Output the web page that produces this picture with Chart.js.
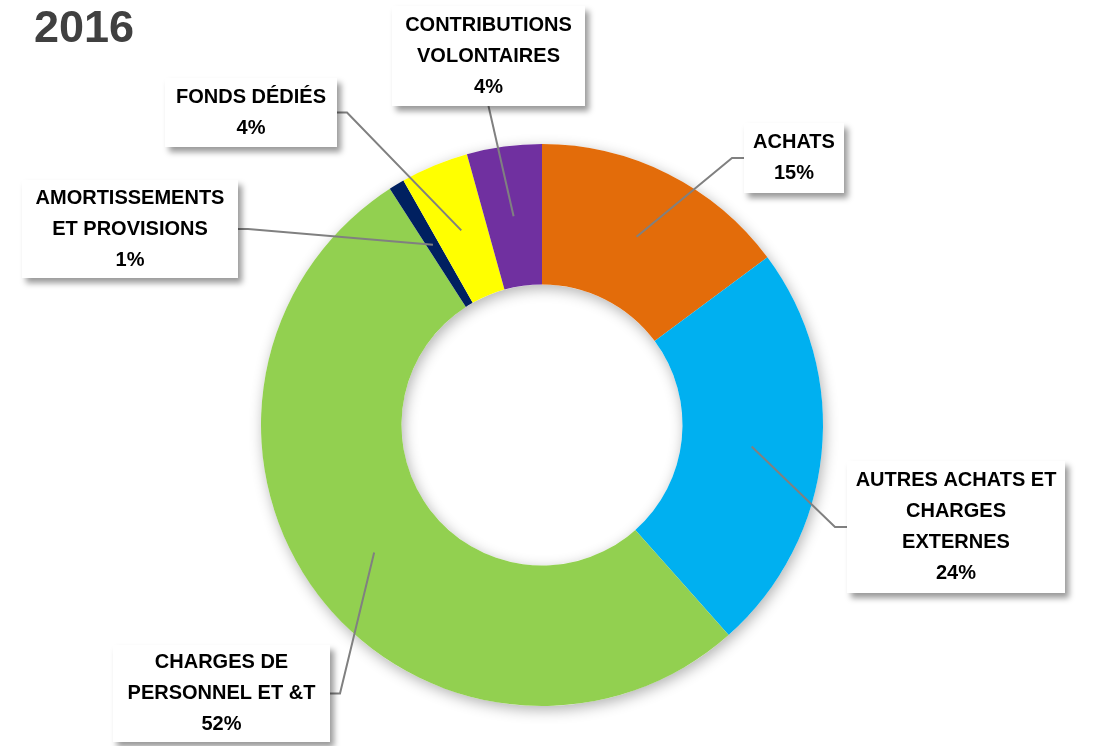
<!DOCTYPE html>
<html>
<head>
<meta charset="utf-8">
<script src="https://cdn.jsdelivr.net/npm/chart.js@4"></script>
<style>
    html, body { margin: 0; padding: 0; background: #ffffff; }
    canvas { display: block; }
</style>
</head>
<body>
<canvas id="chargeschart" width="1097" height="746"></canvas>
<script>
const chartTitle = "2016";
const categories = [
    ["ACHATS"],
    ["AUTRES ACHATS ET", "CHARGES", "EXTERNES"],
    ["CHARGES DE", "PERSONNEL ET &T"],
    ["AMORTISSEMENTS", "ET PROVISIONS"],
    ["FONDS DÉDIÉS"],
    ["CONTRIBUTIONS", "VOLONTAIRES"],
];
const shares = [14.8, 23.6, 52.4, 0.9, 3.9, 4.3];
const colors = ["#E36C0A", "#00B0F0", "#92D050", "#002060", "#FFFF00", "#7030A0"];

// label boxes: x, y, w, h and the side the leader line attaches to
const boxes = [
    { x: 744, y: 123, w: 100, h: 70, side: "left" },
    { x: 847, y: 461, w: 218, h: 132, side: "left" },
    { x: 113, y: 645, w: 217, h: 97, side: "right" },
    { x: 22, y: 180, w: 216, h: 98, side: "right" },
    { x: 165, y: 78, w: 172, h: 69, side: "right" },
    { x: 392, y: 6, w: 193, h: 100, side: "bottom" },
];

const labelFont = "bold 20px 'Liberation Sans', Arial, sans-serif";

const ringShadow = {
    id: "ringShadow",
    beforeDatasetsDraw(chart) {
        const arc = chart.getDatasetMeta(0).data[0];
        if (!arc) return;
        const ctx = chart.ctx;
        ctx.save();
        ctx.shadowColor = "rgba(0, 0, 0, 0.30)";
        ctx.shadowBlur = 14;
        ctx.shadowOffsetX = 2;
        ctx.shadowOffsetY = 4;
        ctx.fillStyle = "#ffffff";
        ctx.beginPath();
        ctx.arc(arc.x, arc.y, arc.outerRadius, 0, Math.PI * 2);
        ctx.arc(arc.x, arc.y, arc.innerRadius, 0, Math.PI * 2, true);
        ctx.fill("evenodd");
        ctx.restore();
    },
};

const callouts = {
    id: "callouts",
    afterDatasetsDraw(chart) {
        const ctx = chart.ctx;
        const meta = chart.getDatasetMeta(0);
        const total = shares.reduce((acc, v) => acc + v, 0);

        // title
        ctx.save();
        ctx.font = "bold 45px 'Liberation Sans', Arial, sans-serif";
        ctx.fillStyle = "#404040";
        ctx.textBaseline = "alphabetic";
        ctx.textAlign = "left";
        ctx.fillText(chartTitle, 34, 42);
        ctx.restore();

        meta.data.forEach(function (arc, i) {
            const b = boxes[i];
            const p = arc.tooltipPosition();
            // leader line
            ctx.save();
            ctx.strokeStyle = "#808080";
            ctx.lineWidth = 2;
            ctx.beginPath();
            ctx.moveTo(p.x, p.y);
            if (b.side == "left") {
                ctx.lineTo(b.x - 12, b.y + b.h / 2);
                ctx.lineTo(b.x, b.y + b.h / 2);
            } else if (b.side == "right") {
                ctx.lineTo(b.x + b.w + 10, b.y + b.h / 2);
                ctx.lineTo(b.x + b.w, b.y + b.h / 2);
            } else {
                ctx.lineTo(b.x + b.w / 2, b.y + b.h);
            }
            ctx.stroke();
            ctx.restore();

            // box with shadow
            ctx.save();
            ctx.shadowColor = "rgba(0, 0, 0, 0.40)";
            ctx.shadowBlur = 6;
            ctx.shadowOffsetX = 4;
            ctx.shadowOffsetY = 5;
            ctx.fillStyle = "#ffffff";
            ctx.fillRect(b.x, b.y, b.w, b.h);
            ctx.restore();

            // text
            const lines = categories[i].concat([Math.round(shares[i] / total * 100) + "%"]);
            const lh = 31;
            const cx = b.x + b.w / 2;
            const top = b.y + b.h / 2 - (lines.length - 1) * lh / 2;
            ctx.save();
            ctx.font = labelFont;
            ctx.fillStyle = "#000000";
            ctx.textAlign = "center";
            ctx.textBaseline = "middle";
            lines.forEach(function (t, k) {
                ctx.fillText(t, cx, top + k * lh);
            });
            ctx.restore();
        });
    },
};

const config = {
    type: "doughnut",
    data: {
        labels: categories,
        datasets: [{
            data: shares,
            backgroundColor: colors,
            borderWidth: 0,
        }],
    },
    options: {
        responsive: false,
        animation: false,
        cutout: "50%",
        layout: {
            padding: { left: 261, right: 274, top: 144, bottom: 40 },
        },
        plugins: {
            legend: { display: false },
            tooltip: { enabled: false },
            title: { display: false },
        },
    },
    plugins: [ringShadow, callouts],
};

var chargeschart = new Chart(document.getElementById("chargeschart"), config);
</script>
</body>
</html>
